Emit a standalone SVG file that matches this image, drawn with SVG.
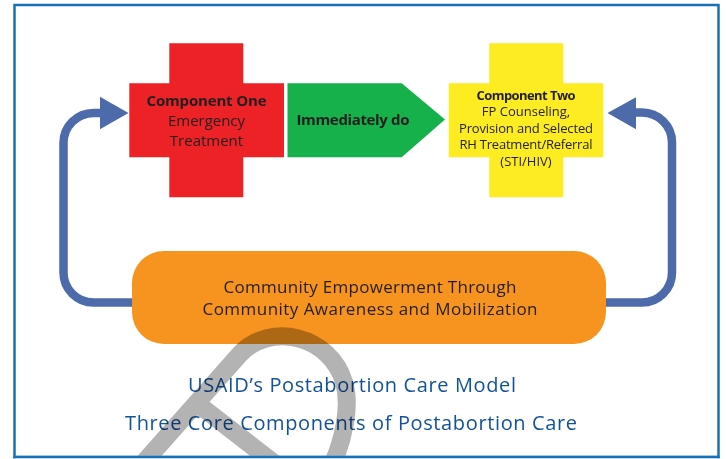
<svg xmlns="http://www.w3.org/2000/svg" width="726" height="459" viewBox="0 0 726 459">
<style>
.t{font-family:"Open Sans","Noto Sans","Liberation Sans",sans-serif;fill:#231f20;text-anchor:middle}
.b{font-weight:bold}
.title{font-family:"Open Sans","Noto Sans","Liberation Sans",sans-serif;fill:#11529b;text-anchor:middle;font-size:20px}
.conn{fill:none;stroke:#4d6aaa;stroke-width:8.5}
.head{fill:#4d6aaa}
</style>
<rect x="0" y="0" width="726" height="459" fill="#ffffff"/>
<rect x="14.5" y="5" width="704" height="452" fill="none" stroke="#1a70b8" stroke-width="2.5"/>
<g id="connectors">
<path class="conn" d="M134 302.5 H93.5 A30 30 0 0 1 63.5 272.5 V143 A30 30 0 0 1 93.5 113 H102"/>
<polygon class="head" points="100,96.7 128.5,113 100,129.3"/>
<path class="conn" d="M604 302.5 H642 A30 30 0 0 0 672 272.5 V142.5 A30 30 0 0 0 642 112.5 H634"/>
<polygon class="head" points="636,97.3 607.5,113 636,129.3"/>
</g>
<g id="component-one">
<path d="M169.3 43.3 H243.3 V83.3 H284 V157.3 H243.3 V197.3 H169.3 V157.3 H129.3 V83.3 H169.3 Z" fill="#ed2227"/>
<text class="t b" x="206.5" y="105.5" font-size="15" textLength="120">Component One</text>
<text class="t" x="206.5" y="126" font-size="15" textLength="77">Emergency</text>
<text class="t" x="206.5" y="145.5" font-size="15">Treatment</text>
</g>
<g id="immediately-do">
<polygon points="287.5,83.3 401.7,83.3 445,119.5 401.7,157.3 287.5,157.3" fill="#17b14b"/>
<text class="t b" x="353" y="125" font-size="15" textLength="113">Immediately do</text>
</g>
<g id="component-two">
<path d="M489.3 43.3 H563.3 V83.3 H603.3 V157.3 H563.3 V197.3 H489.3 V157.3 H448.7 V83.3 H489.3 Z" fill="#fdec21"/>
<text class="t b" x="526" y="99.5" font-size="13" textLength="99">Component Two</text>
<text class="t" x="526" y="116" font-size="13">FP Counseling,</text>
<text class="t" x="526" y="132.7" font-size="13" textLength="134">Provision and Selected</text>
<text class="t" x="526" y="149" font-size="13" textLength="133">RH Treatment/Referral</text>
<text class="t" x="526" y="165.7" font-size="13">(STI/HIV)</text>
</g>
<g id="community">
<rect x="132" y="251" width="474" height="93" rx="32" fill="#f7941f"/>
<text class="t" x="370" y="292.7" font-size="17" textLength="293">Community Empowerment Through</text>
<text class="t" x="370" y="315" font-size="17" textLength="335">Community Awareness and Mobilization</text>
</g>
<g id="title">
<text class="title" x="352" y="391.5" textLength="328">USAID’s Postabortion Care Model</text>
<text class="title" x="351" y="430" textLength="452">Three Core Components of Postabortion Care</text>
</g>
<g id="watermark" style="mix-blend-mode:multiply" fill="none" stroke="#b3b3b3" stroke-width="18" stroke-linejoin="round">
<path d="M130 478 L240 354 C270 322 330 335 344 382 C351 406 344 440 330 470"/>
<path d="M190 398 L283 470"/>
</g>
<rect x="15.75" y="455.75" width="701.5" height="4" fill="#ffffff"/>
<line x1="13.25" y1="457" x2="719.75" y2="457" stroke="#1a70b8" stroke-width="2.5"/>
</svg>
